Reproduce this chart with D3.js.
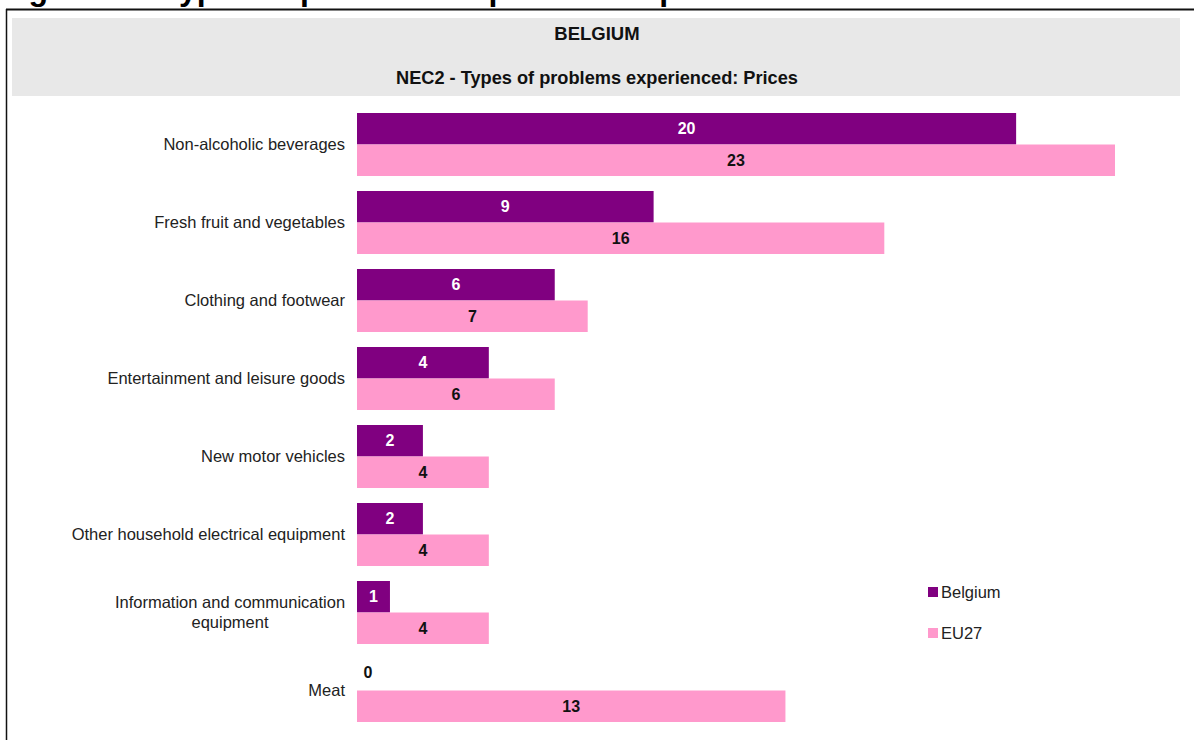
<!DOCTYPE html>
<html>
<head>
<meta charset="utf-8">
<script src="https://cdn.jsdelivr.net/npm/d3@7"></script>
<style>
  html, body { margin: 0; padding: 0; background: #fff; }
  svg { display: block; font-family: "Liberation Sans", Arial, sans-serif; }
</style>
</head>
<body>
<svg id="chart" width="1194" height="740"></svg>
<script>
// Categories, top to bottom
const categories = [
  "Non-alcoholic beverages",
  "Fresh fruit and vegetables",
  "Clothing and footwear",
  "Entertainment and leisure goods",
  "New motor vehicles",
  "Other household electrical equipment",
  "Information and communication equipment",
  "Meat"
];
// Share of respondents (%) per series
const belgium = [20, 9, 6, 4, 2, 2, 1, 0];
const eu27 = [23, 16, 7, 6, 4, 4, 4, 13];
const seriesNames = ["Belgium", "EU27"];
const seriesColors = ["#800080", "#ff99cc"];

const svg = d3.select("#chart");

// Figure caption, running off the top edge of the page
svg.append("text")
  .attr("x", 0).attr("y", -0.5)
  .attr("font-size", 32).attr("font-weight", "bold").attr("fill", "#000")
  .text("Figure 62: Types of problems experienced: prices");

// Frame lines
svg.append("line").attr("x1", 6).attr("x2", 1194).attr("y1", 9.5).attr("y2", 9.5)
  .attr("stroke", "#111").attr("stroke-width", 2);
svg.append("line").attr("x1", 6.5).attr("x2", 6.5).attr("y1", 9).attr("y2", 740)
  .attr("stroke", "#111").attr("stroke-width", 1.5);

// Header band
svg.append("rect").attr("x", 12).attr("y", 18).attr("width", 1168).attr("height", 78)
  .attr("fill", "#e8e8e8");
svg.append("text").attr("x", 597).attr("y", 40).attr("text-anchor", "middle")
  .attr("font-size", 18.5).attr("font-weight", "bold").attr("fill", "#111").text("BELGIUM");
svg.append("text").attr("x", 597).attr("y", 84).attr("text-anchor", "middle")
  .attr("font-size", 18.2).attr("font-weight", "bold").attr("fill", "#111")
  .text("NEC2 - Types of problems experienced: Prices");

// Scales
const x = d3.scaleLinear().domain([0, 23]).range([357, 1115]);
const y = d3.scaleBand().domain(categories).range([105.5, 729.5])
  .paddingInner(15 / 78).paddingOuter(15 / 78 / 2);
const sub = d3.scaleBand().domain(seriesNames).range([0, y.bandwidth()]);

const rows = categories.map((c, i) => ({ cat: c, vals: [belgium[i], eu27[i]] }));

const g = svg.append("g");
const groups = g.selectAll("g.cat").data(rows).join("g")
  .attr("class", "cat")
  .attr("transform", d => `translate(0,${y(d.cat)})`);

groups.selectAll("rect").data(d => d.vals.map((v, k) => ({ v, k })))
  .join("rect")
  .attr("x", x(0))
  .attr("y", d => sub(seriesNames[d.k]))
  .attr("width", d => x(d.v) - x(0))
  .attr("height", sub.bandwidth())
  .attr("fill", d => seriesColors[d.k]);

// Value labels
groups.selectAll("text.val").data(d => d.vals.map((v, k) => ({ v, k })))
  .join("text")
  .attr("class", "val")
  .attr("x", d => d.v === 0 ? x(0) + 11 : (x(0) + x(d.v)) / 2)
  .attr("y", d => sub(seriesNames[d.k]) + sub.bandwidth() / 2 - (d.v === 0 ? 2 : 0))
  .attr("dy", "0.35em")
  .attr("text-anchor", "middle")
  .attr("font-size", 16).attr("font-weight", "bold")
  .attr("fill", d => (d.k === 0 && d.v > 0) ? "#fff" : "#111")
  .text(d => d.v);

// Category axis labels
const yAxis = d3.axisLeft(y).tickSize(0).tickPadding(12);
const ax = svg.append("g").attr("transform", `translate(${x(0)},0)`).call(yAxis);
ax.select(".domain").remove();
ax.selectAll(".tick text")
  .attr("font-size", 16.5).attr("font-family", "Liberation Sans, Arial, sans-serif")
  .attr("fill", "#222")
  .each(function (d) {
    if (d === "Information and communication equipment") {
      const t = d3.select(this);
      t.text(null).attr("text-anchor", "middle");
      const cx = -12 - 115;
      t.append("tspan").attr("x", cx).attr("dy", "-0.25em").text("Information and communication");
      t.append("tspan").attr("x", cx).attr("dy", "1.18em").text("equipment");
    }
  });

// Legend
const legend = svg.append("g").selectAll("g").data(seriesNames).join("g")
  .attr("transform", (d, i) => `translate(928,${587 + i * 41})`);
legend.append("rect").attr("width", 10).attr("height", 10)
  .attr("fill", (d, i) => seriesColors[i]);
legend.append("text").attr("x", 13).attr("y", 5).attr("dy", "0.35em")
  .attr("font-size", 16.5).attr("fill", "#222").text(d => d);
</script>
</body>
</html>
